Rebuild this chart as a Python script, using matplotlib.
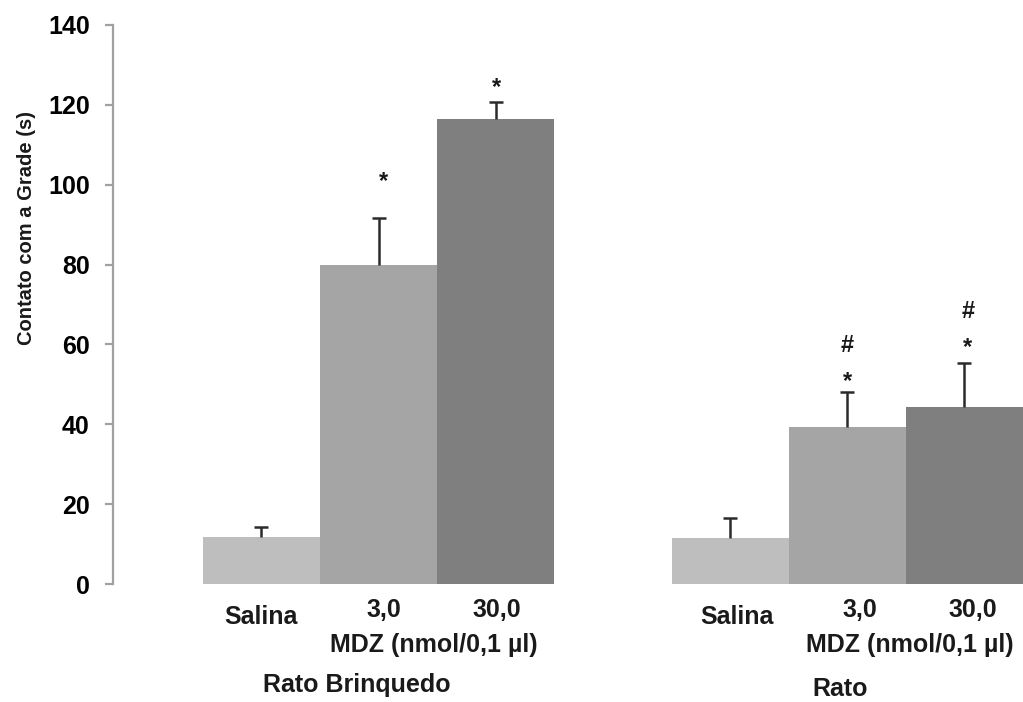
import numpy as np
import matplotlib
matplotlib.use('Agg')
import matplotlib.pyplot as plt

plt.rcParams['font.family'] = ['Liberation Sans', 'DejaVu Sans']
plt.rcParams['font.weight'] = 'bold'

# data
doses = ['Salina', '3,0', '30,0']
groups = ['Rato Brinquedo', 'Rato']
means_brinquedo = [11.75, 80.0, 116.5]
sem_brinquedo = [2.5, 11.75, 4.25]
means_rato = [11.5, 39.25, 44.25]
sem_rato = [5.0, 8.75, 11.0]
dose_unit = 'MDZ (nmol/0,1 µl)'
yticks = [0, 20, 40, 60, 80, 100, 120, 140]
colors = ['#bebebe', '#a5a5a5', '#7f7f7f']

fig = plt.figure(figsize=(10.23, 7.02), dpi=100)
ax = fig.add_axes([113/1023, 1 - 584/702, 910/1023, 559/702])

for g, (m, s) in enumerate([(means_brinquedo, sem_brinquedo), (means_rato, sem_rato)]):
    x = np.arange(3) + 4*g
    m = np.array(m)
    top = m + np.array(s)
    ax.bar(x, m, width=1.0, color=colors, edgecolor='none', zorder=2)
    # one-sided error bars, cap only at the top
    ax.vlines(x, m, top, color='#2b2b2b', lw=1.8, zorder=3)
    ax.hlines(top, x - 0.06, x + 0.06, color='#2b2b2b', lw=1.8, zorder=3)

ax.set_xlim(-1.267, 6.5)
ax.set_ylim(0, 140)
ax.set_yticks(yticks)
ax.set_xticks([])
for sp in ['top', 'right', 'bottom']:
    ax.spines[sp].set_visible(False)
ax.spines['left'].set_color('#a0a0a0')
ax.spines['left'].set_linewidth(1.6)
ax.tick_params(axis='y', direction='out', length=5.8, width=1.6, color='#a0a0a0',
               pad=11, labelsize=18)
for t in ax.get_yticklabels():
    t.set_fontweight('bold')

# significance marks
txt = dict(ha='center', va='baseline', fontsize=17, fontweight='bold', color='#1a1a1a', clip_on=False)
ax.text(1.04, 99.25, '*', **txt)
ax.text(2.01, 122.75, '*', **txt)
ax.text(5.0, 49.0, '*', **txt)
ax.text(5.0, 58.0, '#', **txt)
ax.text(6.03, 57.5, '*', **txt)
ax.text(6.03, 66.5, '#', **txt)

# category labels under the bars
lab = dict(ha='center', va='baseline', fontsize=18, fontweight='bold', color='#1a1a1a', clip_on=False)
for g, off in enumerate([0, 4]):
    ax.text(off + (0.0 if g == 0 else 0.06), -10.0, doses[0], **lab)
    ax.text(off + (1.045 if g == 0 else 1.11), -8.25, doses[1], **lab)
    ax.text(off + (2.01 if g == 0 else 2.07), -8.25, doses[2], **lab)
    ax.text(off + (1.47 if g == 0 else 1.53), -17.0, dose_unit, **lab)
ax.text(0.81, -27.0, groups[0], **lab)
ax.text(4.94, -28.0, groups[1], **lab)

fig.text(27/1023, 1 - 228/702, 'Contato com a Grade (s)', rotation=90, ha='center', va='center',
         fontsize=14.5, fontweight='bold', color='#1a1a1a')

fig.savefig('out.png', dpi=100)
